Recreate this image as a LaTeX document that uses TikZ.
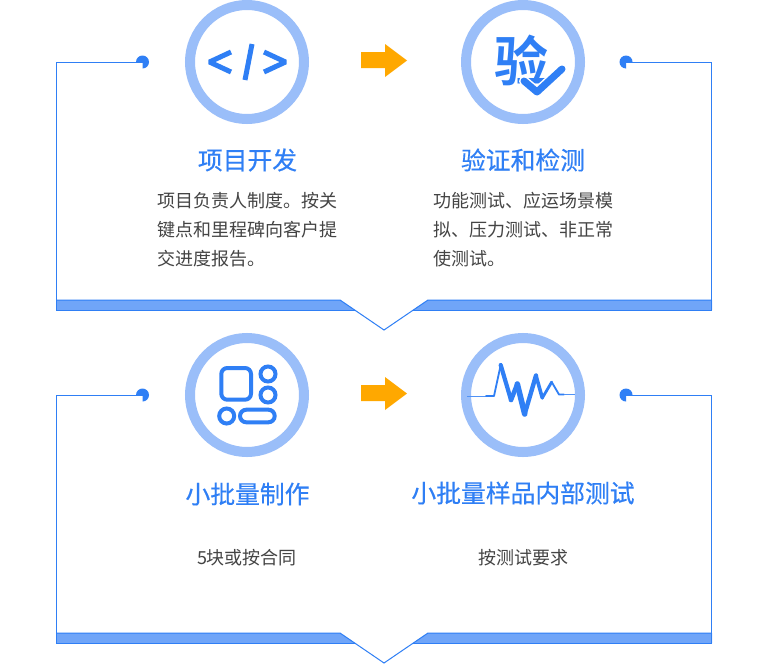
\documentclass[tikz,border=0pt]{standalone}
\usepackage{fontspec}
\setmainfont{Noto Sans CJK SC}
\newfontfamily\titlefont[FakeBold=0.4]{Noto Sans CJK SC}
\newfontfamily\iconfont{Noto Sans CJK SC}[BoldFont={Noto Sans CJK SC Bold}]
\definecolor{mainblue}{HTML}{2F7FF5}
\definecolor{ringblue}{HTML}{9ABEF9}
\definecolor{bandblue}{HTML}{70A5F8}
\definecolor{arroworange}{HTML}{FFA800}
\definecolor{bodygray}{HTML}{444444}
\tikzset{
  x=1pt,y=-1pt,
  ring/.style={circle,draw=ringblue,line width=10pt,minimum size=114pt,inner sep=0pt,fill=white},
  frameline/.style={draw=mainblue,line width=1pt},
  bandfill/.style={fill=bandblue,draw=none},
  dotfill/.style={fill=mainblue,draw=none},
  arrowfill/.style={fill=arroworange,draw=none},
  titletext/.style={text=mainblue,font=\titlefont\fontsize{24.8pt}{28pt}\selectfont,inner sep=0pt,anchor=center},
  bodytext/.style={text=bodygray,font=\fontsize{18pt}{29pt}\selectfont,inner sep=0pt,align=left},
  centertext/.style={text=bodygray,font=\fontsize{18pt}{22pt}\selectfont,inner sep=0pt,anchor=center},
  iconline/.style={draw=mainblue,line cap=round,line join=round},
  iconring/.style={circle,draw=mainblue,line width=4pt,minimum size=15pt,inner sep=0pt},
}
\newcommand{\frameblock}[1]{%
  \begin{scope}[yshift=#1]
    \path[bandfill] (56,300) -- (340,300) -- (355,310) -- (56,310) -- cycle;
    \path[bandfill] (712,300) -- (428,300) -- (413,310) -- (712,310) -- cycle;
    \coordinate (dl) at (142.5,62);
    \coordinate (dr) at (626,62);
    \coordinate (tl) at (56.5,62);
    \coordinate (tr) at (711.5,62);
    \coordinate (bl) at (56.5,310);
    \coordinate (br) at (711.5,310);
    \coordinate (il) at (56.5,300);
    \coordinate (ir) at (711.5,300);
    \coordinate (nl) at (340,300);
    \coordinate (nr) at (428,300);
    \coordinate (tip) at (384,330);
    \coordinate (sl) at (355,310);
    \coordinate (sr) at (413,310);
    \draw[frameline] (dl) -- (tl) -- (bl) -- (sl);
    \draw[frameline] (dr) -- (tr) -- (br) -- (sr);
    \draw[frameline] (il) -- (nl) -- (tip) -- (nr) -- (ir);
    % dots: three quarter discs, the lower outer quarter left open
    \path[dotfill] (dl) -- +(-6.5,0) arc[start angle=180,end angle=450,radius=6.5] -- cycle;
    \path[dotfill] (dr) -- +(0,6.5) arc[start angle=90,end angle=360,radius=6.5] -- cycle;
    \path[arrowfill] (361,52) -- (385,52) -- (385,44) -- (407,60.5) -- (385,77) -- (385,68) -- (361,68) -- cycle;
    \node[ring] (ringl#1) at (247,62) {};
    \node[ring] (ringr#1) at (523,62) {};
  \end{scope}%
}
\begin{document}
\begin{tikzpicture}
\useasboundingbox (0,0) rectangle (768,664);
\fill[white] (0,0) rectangle (768,664);
\frameblock{0pt}
\frameblock{-333pt}

% icon 1
\draw[iconline,line width=5pt,line cap=butt,line join=bevel] (231,52) -- (209.5,62) -- (231,72);
\draw[iconline,line width=5pt,line cap=butt] (252,44) -- (245,80);
\draw[iconline,line width=5pt,line cap=butt,line join=bevel] (264,52) -- (285.5,62) -- (264,72);

% icon 2
\node[text=mainblue,inner sep=0pt,font=\iconfont\bfseries\fontsize{54pt}{54pt}\selectfont] (yan) at (521.5,60) {验};
\draw[white,line width=10pt,line cap=round,line join=round] (524,81) -- (537,92) -- (562,69);
\draw[iconline,line width=7pt] (524,81) -- (537,92) -- (562,69);

% icon 3
\draw[iconline,line width=4pt,rounded corners=6pt] (221.3,368) rectangle (251,399.7);
\node[iconring] (c1) at (268,374) {};
\node[iconring] (c2) at (268,395) {};
\node[iconring] (c3) at (226.7,416) {};
\draw[iconline,line width=4pt,rounded corners=6.3pt] (240,409.7) rectangle (274.7,422.3);

% icon 4
\draw[ringblue!30!mainblue,line width=1pt] (467,396) -- (494,396);
\draw[iconline,line width=1.8pt] (486,396) -- (494,396) -- (500.7,365);
\draw[iconline,line width=4.2pt] (500.7,365) -- (511,400);
\draw[iconline,line width=4.6pt] (511,400) -- (517.3,384);
\draw[iconline,line width=5.6pt] (517.3,384) -- (524.7,414);
\draw[iconline,line width=4.4pt] (524.7,414) -- (536,375.5);
\draw[iconline,line width=3.6pt] (536,375.5) -- (542.3,398);
\draw[iconline,line width=2.8pt] (542.3,398) -- (551.7,382);
\draw[iconline,line width=1.8pt] (551.7,382) -- (559,394.5) -- (564,394.5);
\draw[ringblue!30!mainblue,line width=1pt] (564,394.5) -- (575,394.5);

% titles
\node[titletext] (t1) at (247.5,160) {项目开发};
\node[titletext] (t2) at (523,160) {验证和检测};
\node[titletext] (t3) at (247.5,494) {小批量制作};
\node[titletext] (t4) at (523,493) {小批量样品内部测试};

% body
\node[bodytext,anchor=north west] (b1) at (157,192) {项目负责人制度。按关\\键点和里程碑向客户提\\交进度报告。};
\node[bodytext,anchor=north west] (b2) at (433,192) {功能测试、应运场景模\\拟、压力测试、非正常\\使测试。};
\node[centertext] (b3) at (247,557.5) {5块或按合同};
\node[centertext] (b4) at (523,557.5) {按测试要求};
\end{tikzpicture}
\end{document}
